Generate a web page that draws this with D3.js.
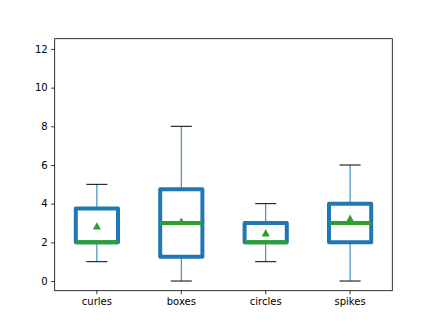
<!DOCTYPE html>
<head>
    <meta charset="utf-8">
    <script src="https://d3js.org/d3.v7.min.js"></script>
</head>
<body style="margin: 0; background: white">
    <div id="my_dataviz"></div>
    <script>
        // box plot summaries
        var categories = ["curles", "boxes", "circles", "spikes"]
        var whiskerLow = [1, 0, 1, 0]
        var q1 = [2, 1.25, 2, 2]
        var medians = [2, 3, 2, 3]
        var q3 = [3.75, 4.75, 3, 4]
        var whiskerHigh = [5, 8, 4, 6]
        var means = [2.85, 3.1, 2.5, 3.25]
        var yTicks = [0, 2, 4, 6, 8, 10, 12]

        var margin = { top: 38.7, right: 43.7, bottom: 36.3, left: 54.7 },
            width = 436 - margin.left - margin.right,
            height = 327 - margin.top - margin.bottom;

        var svg = d3.select("#my_dataviz")
            .append("svg")
            .attr("width", 436)
            .attr("height", 327)
            .append("g")
            .attr("transform", "translate(" + margin.left + "," + margin.top + ")");

        var x = d3.scaleBand()
            .domain(categories)
            .range([0, width])
            .padding(0)

        var y = d3.scaleLinear()
            .domain([-0.5, 12.53])
            .range([height, 0])

        var data = categories.map(function (c, i) {
            return { name: c, lo: whiskerLow[i], q1: q1[i], med: medians[i], q3: q3[i], hi: whiskerHigh[i], mean: means[i] }
        })

        var bw = x.bandwidth()
        var boxW = bw * 0.5
        var capW = bw * 0.25
        var cx = function (d) { return x(d.name) + bw / 2 }

        // whiskers
        var g = svg.selectAll(".bp").data(data).enter().append("g")
        g.append("line")
            .attr("x1", cx).attr("x2", cx)
            .attr("y1", function (d) { return y(d.q3) }).attr("y2", function (d) { return y(d.hi) })
            .attr("stroke", "#1f77b4").attr("stroke-width", 1)
        g.append("line")
            .attr("x1", cx).attr("x2", cx)
            .attr("y1", function (d) { return y(d.q1) }).attr("y2", function (d) { return y(d.lo) })
            .attr("stroke", "#1f77b4").attr("stroke-width", 1)

        // caps
        g.append("line")
            .attr("x1", function (d) { return cx(d) - capW / 2 }).attr("x2", function (d) { return cx(d) + capW / 2 })
            .attr("y1", function (d) { return y(d.hi) }).attr("y2", function (d) { return y(d.hi) })
            .attr("stroke", "black").attr("stroke-width", 1)
        g.append("line")
            .attr("x1", function (d) { return cx(d) - capW / 2 }).attr("x2", function (d) { return cx(d) + capW / 2 })
            .attr("y1", function (d) { return y(d.lo) }).attr("y2", function (d) { return y(d.lo) })
            .attr("stroke", "black").attr("stroke-width", 1)

        // boxes
        g.append("rect")
            .attr("x", function (d) { return cx(d) - boxW / 2 })
            .attr("y", function (d) { return y(d.q3) })
            .attr("width", boxW)
            .attr("height", function (d) { return y(d.q1) - y(d.q3) })
            .attr("fill", "none")
            .attr("stroke", "#1f77b4")
            .attr("stroke-width", 4)
            .attr("stroke-linejoin", "round")

        // medians
        g.append("line")
            .attr("x1", function (d) { return cx(d) - boxW / 2 }).attr("x2", function (d) { return cx(d) + boxW / 2 })
            .attr("y1", function (d) { return y(d.med) }).attr("y2", function (d) { return y(d.med) })
            .attr("stroke", "#2ca02c").attr("stroke-width", 4)

        // means: triangle centred on its bounding box like matplotlib's "^"
        g.append("path")
            .attr("d", "M0,-3.7L4,3.7L-4,3.7Z")
            .attr("transform", function (d) { return "translate(" + cx(d) + "," + y(d.mean) + ")" })
            .attr("fill", "#2ca02c")

        // axes
        svg.append("g")
            .attr("transform", "translate(0," + height + ")")
            .call(d3.axisBottom(x).tickSize(3.5).tickPadding(3.5))
        svg.append("g")
            .call(d3.axisLeft(y).tickValues(yTicks).tickSize(3.5).tickPadding(3.5))

        svg.selectAll(".tick text")
            .style("font-family", "DejaVu Sans")
            .style("font-size", "10px")
            .attr("fill", "black")
        svg.selectAll(".tick line").attr("stroke", "black").attr("stroke-width", 0.8)
        svg.selectAll(".domain").remove()

        // frame
        svg.append("rect")
            .attr("width", width).attr("height", height)
            .attr("fill", "none").attr("stroke", "black").attr("stroke-width", 0.8)
    </script>
</body>
</html>
